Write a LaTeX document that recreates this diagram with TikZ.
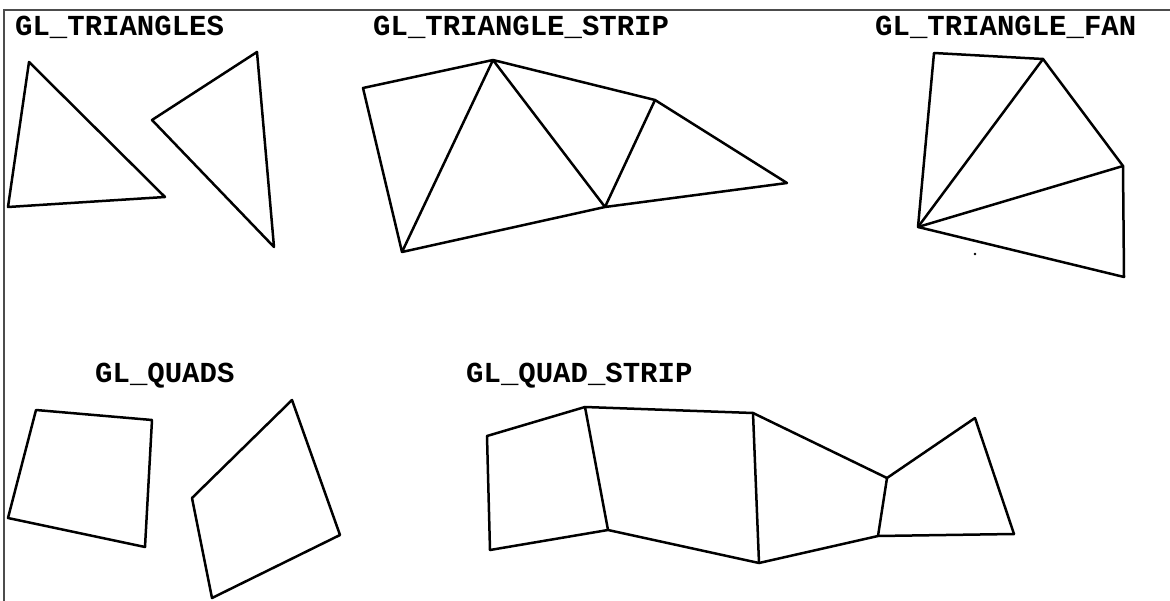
\documentclass[tikz,border=0pt]{standalone}
\usepackage{fontspec}
\setmonofont{Liberation Mono}
\begin{document}
\begin{tikzpicture}[x=1pt,y=-1pt,
  edge/.style={draw=black,line width=2.5pt,line join=round,line cap=round},
  frameline/.style={draw=black!70,line width=1.6pt},
  title/.style={anchor=base west,inner sep=0pt,font=\ttfamily\bfseries\fontsize{29}{29}\selectfont}]
\useasboundingbox (0,0) rectangle (1170,601);
\fill[white] (0,0) rectangle (1170,601);
% frame
\coordinate (fTL) at (4,10);
\coordinate (fTR) at (1170,10);
\coordinate (fBL) at (4,601);
\draw[frameline] (fBL) -- (fTL) -- (fTR);

% titles
\node[title] (tTri) at (15,36) {GL\_TRIANGLES};
\node[title] (tStrip) at (373,36) {GL\_TRIANGLE\_STRIP};
\node[title] (tFan) at (875,36) {GL\_TRIANGLE\_FAN};
\node[title] (tQuads) at (95,383) {GL\_QUADS};
\node[title] (tQStrip) at (466,383) {GL\_QUAD\_STRIP};

% GL_TRIANGLES
\coordinate (a1) at (29,62);
\coordinate (a2) at (8,207);
\coordinate (a3) at (165,197);
\coordinate (b1) at (152,120);
\coordinate (b2) at (257,52);
\coordinate (b3) at (274,247);
\draw[edge] (a1) -- (a2) -- (a3) -- cycle;
\draw[edge] (b1) -- (b2) -- (b3) -- cycle;

% GL_TRIANGLE_STRIP
\coordinate (sA) at (363,88);
\coordinate (sB) at (493,60);
\coordinate (sC) at (402,252);
\coordinate (sD) at (655,100);
\coordinate (sE) at (605,207);
\coordinate (sF) at (787,183);
\draw[edge] (sC) -- (sA) -- (sB) -- (sD) -- (sF) -- (sE) -- (sC) -- (sB) -- (sE) -- (sD);

% GL_TRIANGLE_FAN
\coordinate (fO) at (918,227);
\coordinate (f1) at (934,53);
\coordinate (f2) at (1043,59);
\coordinate (f3) at (1123,166);
\coordinate (f4) at (1124,277);
\draw[edge] (fO) -- (f1) -- (f2) -- (f3) -- (f4) -- (fO);
\draw[edge] (fO) -- (f2);
\draw[edge] (fO) -- (f3);
\fill[black] (975,254) circle (1.3pt);

% GL_QUADS
\coordinate (q1) at (36,410);
\coordinate (q2) at (152,420);
\coordinate (q3) at (145,547);
\coordinate (q4) at (8,518);
\draw[edge] (q1) -- (q2) -- (q3) -- (q4) -- cycle;
\coordinate (r1) at (292,400);
\coordinate (r2) at (340,535);
\coordinate (r3) at (212,598);
\coordinate (r4) at (192,498);
\draw[edge] (r1) -- (r2) -- (r3) -- (r4) -- cycle;

% GL_QUAD_STRIP
\coordinate (t0) at (487,436);
\coordinate (t1) at (585,407);
\coordinate (t2) at (753,413);
\coordinate (t3) at (887,478);
\coordinate (t4) at (975,418);
\coordinate (u0) at (490,550);
\coordinate (u1) at (608,530);
\coordinate (u2) at (759,563);
\coordinate (u3) at (878,536);
\coordinate (u4) at (1014,534);
\draw[edge] (t0) -- (t1) -- (t2) -- (t3) -- (t4);
\draw[edge] (u0) -- (u1) -- (u2) -- (u3) -- (u4);
\draw[edge] (t0) -- (u0);
\draw[edge] (t1) -- (u1);
\draw[edge] (t2) -- (u2);
\draw[edge] (t3) -- (u3);
\draw[edge] (t4) -- (u4);
\end{tikzpicture}
\end{document}
